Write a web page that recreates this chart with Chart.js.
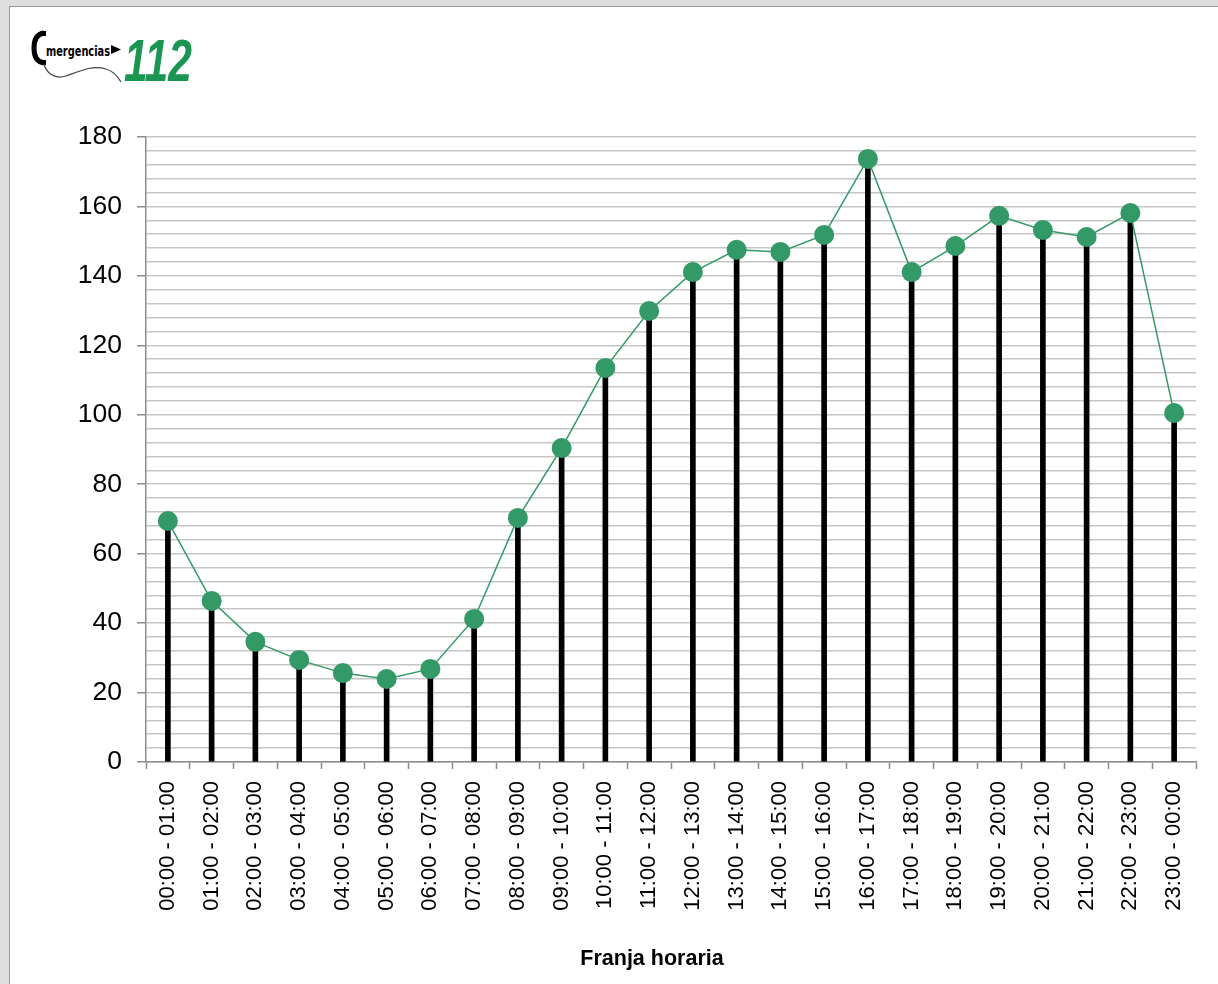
<!DOCTYPE html>
<html>
<head>
<meta charset="utf-8">
<script src="https://cdn.jsdelivr.net/npm/chart.js@4"></script>
<style>
    html, body { margin: 0; padding: 0; }
    body { width: 1218px; height: 984px; background: #dedede; position: relative; overflow: hidden; }
    #page { position: absolute; left: 9px; top: 6px; right: 0; bottom: 0; background: #fff;
            border-left: 1px solid #9a9a9a; border-top: 1px solid #9a9a9a; }
    #logo { position: absolute; left: 0; top: 0; }
    #wrap { position: absolute; left: 0; top: 0; width: 1218px; height: 984px; }
    #xtitle { position: absolute; left: 452px; width: 400px; top: 946px; text-align: center;
              font: bold 21.5px "Liberation Sans", Arial, sans-serif; color: #000; }
</style>
</head>
<body>
<div id="page"></div>
<svg id="logo" width="230" height="100">
    <!-- handset -->
    <path d="M44 33 C36 34 34 40 34 48 C34 56 36 62 44 63" fill="none" stroke="#000" stroke-width="5"/>
    <rect x="41" y="31" width="5" height="5" fill="#000"/>
    <rect x="41" y="60" width="5" height="5" fill="#000"/>
    <!-- cable -->
    <path d="M44 64 C46 72 54 80 66 76 C80 71 92 65 106 69 C114 71 118 77 121 82" fill="none" stroke="#444" stroke-width="1.2"/>
    <text x="46" y="55.5" font-family="Liberation Sans Narrow, DejaVu Sans Condensed, Liberation Sans, sans-serif"
          font-weight="bold" font-size="13.5" textLength="64" lengthAdjust="spacingAndGlyphs">mergencias</text>
    <path d="M111 45 L121 49.5 L111 54 Z" fill="#000"/>
    <text x="124" y="81" font-family="Liberation Sans Narrow, Liberation Sans, sans-serif" font-weight="bold"
          font-style="italic" font-size="60" fill="#1b9652" textLength="68" lengthAdjust="spacingAndGlyphs">112</text>
</svg>
<div id="wrap"><canvas id="chart"></canvas></div>
<div id="xtitle">Franja horaria</div>
<script>
const franjas = [
    '00:00 - 01:00', '01:00 - 02:00', '02:00 - 03:00', '03:00 - 04:00',
    '04:00 - 05:00', '05:00 - 06:00', '06:00 - 07:00', '07:00 - 08:00',
    '08:00 - 09:00', '09:00 - 10:00', '10:00 - 11:00', '11:00 - 12:00',
    '12:00 - 13:00', '13:00 - 14:00', '14:00 - 15:00', '15:00 - 16:00',
    '16:00 - 17:00', '17:00 - 18:00', '18:00 - 19:00', '19:00 - 20:00',
    '20:00 - 21:00', '21:00 - 22:00', '22:00 - 23:00', '23:00 - 00:00'
];
const llamadas = [
    69.4, 46.4, 34.6, 29.4, 25.6, 23.9, 26.8, 41.2,
    70.3, 90.4, 113.5, 129.9, 141.1, 147.5, 146.9, 151.8,
    173.7, 141.1, 148.6, 157.3, 153.2, 151.2, 158.1, 100.5
];
const yMin = 0;
const yMax = 180;
const yStep = 4;       // minor gridlines
const yLabelStep = 20; // labelled ticks

const green = '#339966';
const axisGray = '#8c8c8c';

Chart.defaults.font.family = '"Liberation Sans", Arial, sans-serif';
Chart.defaults.color = '#000';

new Chart(document.getElementById('chart'), {
    type: 'bar',
    data: {
        labels: franjas,
        datasets: [
            {
                type: 'line',
                data: llamadas,
                borderColor: green,
                borderWidth: 1.5,
                pointRadius: 10,
                pointBackgroundColor: green,
                pointBorderWidth: 0,
                tension: 0,
                order: 0
            },
            {
                // drop lines
                data: llamadas,
                backgroundColor: '#000',
                barThickness: 5,
                order: 1
            }
        ]
    },
    options: {
        responsive: true,
        maintainAspectRatio: false,
        animation: false,
        layout: { padding: { left: 0, right: 22, top: 137, bottom: 0 } },
        plugins: {
            legend: { display: false },
            tooltip: { enabled: false }
        },
        scales: {
            x: {
                offset: true,
                grid: {
                    offset: true,
                    drawOnChartArea: false,
                    tickLength: 7,
                    tickColor: axisGray,
                    tickWidth: 1.5
                },
                border: { color: axisGray, width: 1.5 },
                ticks: {
                    minRotation: 90,
                    maxRotation: 90,
                    autoSkip: false,
                    padding: 12,
                    font: { size: 22 }
                },
                afterFit: (scale) => { scale.height = 222; }
            },
            y: {
                min: yMin,
                max: yMax,
                grid: {
                    color: '#c6c6c6',
                    lineWidth: 1.5,
                    tickLength: 9,
                    tickWidth: 1.5,
                    tickColor: (ctx) => (ctx.tick && ctx.tick.value % yLabelStep === 0) ? axisGray : 'rgba(0,0,0,0)'
                },
                border: { color: axisGray, width: 1.5 },
                ticks: {
                    stepSize: yStep,
                    autoSkip: false,
                    padding: 15,
                    font: { size: 26.5 },
                    callback: (v) => v % yLabelStep === 0 ? v : ''
                },
                afterFit: (scale) => { scale.width = 146; }
            }
        }
    }
});
</script>
</body>
</html>
